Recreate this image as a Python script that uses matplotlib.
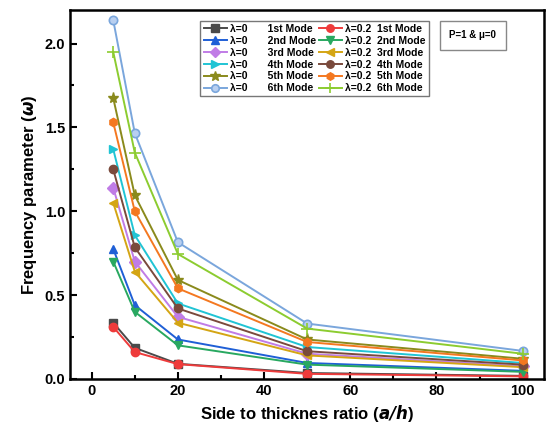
import matplotlib
matplotlib.use("Agg")
import matplotlib.pyplot as plt
from matplotlib.ticker import MultipleLocator

plt.rcParams['font.family'] = ['Liberation Sans', 'DejaVu Sans']
plt.rcParams['font.weight'] = 'bold'

# Side-to-thickness ratio a/h
ratio = [5, 10, 20, 50, 100]

# Frequency parameter, lambda = 0
w0_m1 = [0.335, 0.185, 0.090, 0.035, 0.018]
w0_m2 = [0.775, 0.440, 0.235, 0.095, 0.048]
w0_m3 = [1.140, 0.700, 0.370, 0.150, 0.075]
w0_m4 = [1.370, 0.857, 0.450, 0.190, 0.095]
w0_m5 = [1.675, 1.095, 0.590, 0.235, 0.120]
w0_m6 = [2.140, 1.466, 0.815, 0.330, 0.167]

# Frequency parameter, lambda = 0.2
w2_m1 = [0.310, 0.160, 0.088, 0.030, 0.015]
w2_m2 = [0.700, 0.400, 0.200, 0.085, 0.042]
w2_m3 = [1.050, 0.640, 0.335, 0.140, 0.070]
w2_m4 = [1.250, 0.785, 0.420, 0.165, 0.085]
w2_m5 = [1.530, 1.000, 0.540, 0.220, 0.110]
w2_m6 = [1.950, 1.350, 0.745, 0.300, 0.150]

mode_names = ['1st Mode', '2nd Mode', '3rd Mode', '4th Mode', '5th Mode', '6th Mode']

series0 = [w0_m1, w0_m2, w0_m3, w0_m4, w0_m5, w0_m6]
series2 = [w2_m1, w2_m2, w2_m3, w2_m4, w2_m5, w2_m6]

styles0 = [('#4a4a4a', 's'), ('#1f5fd6', '^'), ('#c07ce6', 'D'),
           ('#20c4d4', '>'), ('#8a8a1c', '*'), ('#7aa6dc', 'o')]
styles2 = [('#ee3b3b', 'o'), ('#28a860', 'v'), ('#d4a514', '<'),
           ('#7a4a3c', 'o'), ('#f47820', 'h'), ('#8ccc30', '+')]

fig = plt.figure(figsize=(5.48, 4.37), dpi=100)
ax = fig.add_axes([0.128, 0.133, 0.865, 0.844])

for i in range(6):
    c, m = styles0[i]
    kw = dict(color=c, marker=m, lw=1.4, ms=6)
    if i == 5:
        kw.update(mfc='#b8cff0', mec=c, mew=1.2)
    if m == '*':
        kw['ms'] = 8
    ax.plot(ratio, series0[i], label='λ=0       ' + mode_names[i], **kw)

for i in range(6):
    c, m = styles2[i]
    kw = dict(color=c, marker=m, lw=1.4, ms=6)
    if m == '+':
        kw.update(ms=8, mew=1.2)
    ax.plot(ratio, series2[i], label='λ=0.2  ' + mode_names[i], **kw)

ax.set_xlim(-5, 105)
ax.set_ylim(0, 2.2)
ax.xaxis.set_major_locator(MultipleLocator(20))
ax.xaxis.set_minor_locator(MultipleLocator(10))
ax.yaxis.set_major_locator(MultipleLocator(0.5))
ax.yaxis.set_minor_locator(MultipleLocator(0.25))
ax.tick_params(which='both', direction='in', width=1.5)
ax.tick_params(which='major', length=5, labelsize=10.5)
ax.tick_params(which='minor', length=3)
for lab in ax.get_xticklabels() + ax.get_yticklabels():
    lab.set_fontweight('bold')
for s in ax.spines.values():
    s.set_linewidth(1.8)

ax.set_xlabel('Side to thicknes ratio ($\\mathbfit{a/h}$)', fontsize=12, fontweight='bold')
ax.set_ylabel('Frequency parameter ($\\mathbfit{\\omega}$)', fontsize=12, fontweight='bold')

leg = ax.legend(ncol=2, loc='upper left', bbox_to_anchor=(0.264, 0.985),
                prop={'weight': 'bold', 'size': 7.5},
                frameon=True, fancybox=False, edgecolor='#555555',
                handlelength=2.2, handletextpad=0.3, columnspacing=0.3,
                labelspacing=0.18, borderpad=0.3, markerscale=0.9)
leg.get_frame().set_linewidth(1.0)

ax.text(0.800, 0.945, 'P=1 & μ=0', transform=ax.transAxes, fontsize=7,
        fontweight='bold', va='top', ha='left',
        bbox=dict(boxstyle='square,pad=1.0', fc='white', ec='#888888', lw=1.0))

fig.savefig('out.png', dpi=100)
